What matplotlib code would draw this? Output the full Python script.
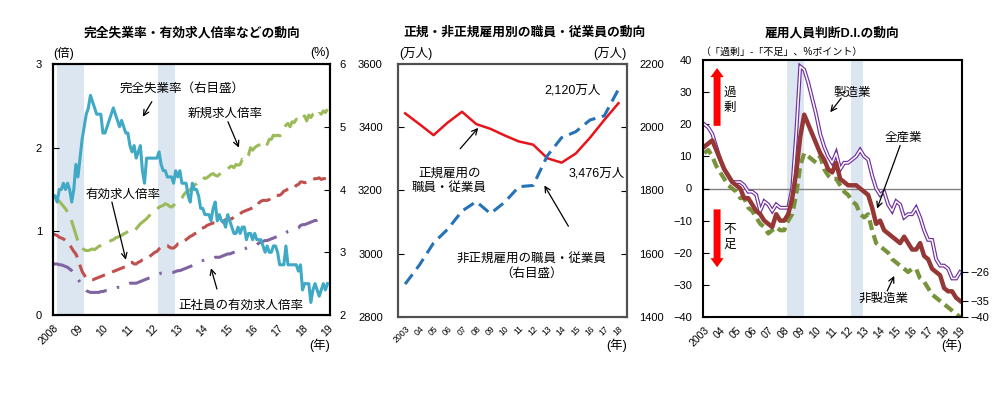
import matplotlib
matplotlib.use("Agg")
import matplotlib.pyplot as plt
import numpy as np

plt.rcParams['font.family'] = ['Liberation Sans', 'Noto Sans CJK JP', 'DejaVu Sans']

# ---- panel 1: monthly, Jan 2008 - Jan 2019 ----
unemp = [3.9, 3.9, 3.8, 4.0, 4.0, 4.1, 4.0, 4.1, 4.0, 3.8, 4.0, 4.4,
         4.2, 4.5, 4.8, 5.0, 5.2, 5.3, 5.5, 5.4, 5.3, 5.2, 5.2, 5.2,
         4.9, 4.9, 5.0, 5.1, 5.2, 5.3, 5.2, 5.1, 5.0, 5.1, 5.0, 4.9,
         4.9, 4.7, 4.6, 4.7, 4.5, 4.6, 4.7, 4.3, 4.1, 4.5, 4.5, 4.5,
         4.5, 4.5, 4.5, 4.6, 4.4, 4.3, 4.3, 4.2, 4.2, 4.2, 4.1, 4.3,
         4.2, 4.3, 4.1, 4.1, 4.1, 3.9, 3.8, 4.1, 4.0, 4.0, 3.9, 3.7,
         3.7, 3.6, 3.6, 3.6, 3.5, 3.7, 3.8, 3.5, 3.6, 3.5, 3.5, 3.4,
         3.6, 3.5, 3.4, 3.3, 3.3, 3.4, 3.3, 3.4, 3.4, 3.2, 3.3, 3.3,
         3.2, 3.3, 3.2, 3.2, 3.2, 3.1, 3.0, 3.1, 3.0, 3.0, 3.1, 3.1,
         3.0, 2.8, 2.8, 2.8, 3.1, 2.8, 2.8, 2.8, 2.8, 2.8, 2.7, 2.8,
         2.4, 2.5, 2.5, 2.5, 2.2, 2.4, 2.5, 2.4, 2.3, 2.4, 2.5, 2.4,
         2.5]
ratio = [0.97, 0.96, 0.95, 0.93, 0.92, 0.91, 0.89, 0.86, 0.84, 0.80, 0.76, 0.73,
         0.67, 0.59, 0.52, 0.48, 0.44, 0.43, 0.42, 0.42, 0.43, 0.44, 0.45, 0.46,
         0.47, 0.48, 0.49, 0.50, 0.51, 0.52, 0.53, 0.54, 0.55, 0.56, 0.57, 0.58,
         0.61, 0.62, 0.63, 0.61, 0.61, 0.63, 0.64, 0.66, 0.67, 0.68, 0.69, 0.71,
         0.73, 0.75, 0.76, 0.79, 0.81, 0.82, 0.83, 0.83, 0.81, 0.80, 0.80, 0.82,
         0.85, 0.85, 0.86, 0.89, 0.90, 0.92, 0.94, 0.95, 0.97, 0.98, 1.00, 1.03,
         1.04, 1.05, 1.07, 1.08, 1.09, 1.10, 1.10, 1.10, 1.09, 1.10, 1.12, 1.14,
         1.14, 1.15, 1.15, 1.17, 1.19, 1.19, 1.21, 1.23, 1.24, 1.25, 1.26, 1.27,
         1.28, 1.28, 1.30, 1.34, 1.36, 1.37, 1.37, 1.37, 1.38, 1.40, 1.41, 1.43,
         1.43, 1.43, 1.45, 1.48, 1.49, 1.51, 1.52, 1.52, 1.52, 1.55, 1.56, 1.59,
         1.59, 1.58, 1.59, 1.59, 1.60, 1.62, 1.63, 1.63, 1.64, 1.62, 1.63, 1.63,
         1.63]
new_ratio = [1.42, 1.40, 1.38, 1.36, 1.33, 1.30, 1.27, 1.23, 1.18, 1.12, 1.04, 0.96,
             0.88, 0.83, 0.80, 0.78, 0.77, 0.77, 0.78, 0.79, 0.78, 0.80, 0.82, 0.83,
             0.84, 0.85, 0.86, 0.88, 0.89, 0.90, 0.92, 0.93, 0.94, 0.95, 0.97, 0.98,
             1.00, 1.02, 1.01, 1.00, 1.03, 1.06, 1.09, 1.11, 1.13, 1.15, 1.18, 1.20,
             1.23, 1.25, 1.26, 1.29, 1.30, 1.31, 1.33, 1.32, 1.30, 1.29, 1.31, 1.34,
             1.37, 1.38, 1.40, 1.44, 1.47, 1.48, 1.50, 1.52, 1.55, 1.57, 1.60, 1.63,
             1.65, 1.63, 1.64, 1.66, 1.68, 1.69, 1.67, 1.66, 1.68, 1.70, 1.72, 1.74,
             1.74, 1.77, 1.78, 1.76, 1.80, 1.79, 1.80, 1.86, 1.84, 1.87, 1.91, 2.00,
             1.97, 2.00, 2.02, 2.03, 2.05, 2.06, 2.08, 2.04, 2.10, 2.10, 2.15, 2.14,
             2.15, 2.14, 2.16, 2.21, 2.27, 2.29, 2.25, 2.31, 2.30, 2.34, 2.33, 2.38,
             2.36, 2.38, 2.32, 2.39, 2.36, 2.40, 2.41, 2.37, 2.41, 2.40, 2.44, 2.42,
             2.46]
regular_ratio = [0.61, 0.61, 0.61, 0.60, 0.60, 0.59, 0.58, 0.57, 0.55, 0.53, 0.50, 0.47,
                 0.43, 0.39, 0.35, 0.31, 0.29, 0.28, 0.27, 0.27, 0.27, 0.27, 0.27, 0.28,
                 0.28, 0.29, 0.29, 0.30, 0.31, 0.31, 0.32, 0.33, 0.33, 0.34, 0.35, 0.36,
                 0.37, 0.38, 0.38, 0.38, 0.38, 0.39, 0.40, 0.41, 0.42, 0.43, 0.44, 0.45,
                 0.46, 0.47, 0.48, 0.49, 0.50, 0.50, 0.51, 0.51, 0.51, 0.51, 0.51, 0.52,
                 0.53, 0.53, 0.54, 0.55, 0.56, 0.57, 0.58, 0.59, 0.60, 0.61, 0.62, 0.64,
                 0.65, 0.66, 0.67, 0.67, 0.68, 0.68, 0.69, 0.69, 0.69, 0.70, 0.71, 0.72,
                 0.73, 0.73, 0.74, 0.75, 0.76, 0.77, 0.78, 0.78, 0.79, 0.80, 0.81, 0.82,
                 0.82, 0.83, 0.84, 0.86, 0.87, 0.88, 0.89, 0.89, 0.90, 0.91, 0.92, 0.93,
                 0.94, 0.94, 0.95, 0.97, 0.98, 1.00, 1.01, 1.02, 1.02, 1.03, 1.04, 1.07,
                 1.08, 1.08, 1.09, 1.10, 1.11, 1.12, 1.13, 1.13, 1.14, 1.14, 1.13, 1.13]
p1_ticks = ['2008', '09', '10', '11', '12', '13', '14', '15', '16', '17', '18', '19']

# ---- panel 2: annual 2003-2018 (万人) ----
years2 = list(range(2003, 2019))
regular_emp = [3444, 3410, 3375, 3415, 3449, 3410, 3395, 3374, 3355, 3345,
               3302, 3288, 3317, 3367, 3423, 3476]
nonregular_emp = [1504, 1564, 1634, 1678, 1735, 1765, 1727, 1763, 1812, 1816,
                  1910, 1967, 1986, 2023, 2036, 2120]
p2_ticks = ['2003', '04', '05', '06', '07', '08', '09', '10', '11', '12',
            '13', '14', '15', '16', '17', '18']

# ---- panel 3: quarterly 2003Q1 - 2019Q1 ----
di_all = [13, 14, 15, 12, 9, 6, 4, 2, 1, 0,
          -3, -3, -5, -7, -8, -10, -11, -12, -8, -10,
          -10, -8, -3, 5, 16, 23, 20, 17, 14, 11,
          9, 6, 5, 8, 3, 2, 1, 1, 1, 0,
          -1, -2, -6, -11, -10, -13, -14, -15, -16, -17,
          -15, -17, -19, -19, -17, -21, -22, -25, -26, -27,
          -31, -32, -32, -34, -35]
di_mfg = [20, 19, 17, 13, 9, 6, 4, 2, 2, 2,
          1, -1, -1, -2, -7, -4, -5, -7, -5, -6,
          -6, -6, 0, 17, 38, 37, 33, 28, 23, 17,
          13, 10, 8, 11, 6, 8, 8, 9, 10, 12,
          10, 9, 4, 0, -2, -1, -5, -7, -4, -5,
          -9, -8, -8, -6, -9, -13, -16, -16, -22, -24,
          -24, -25, -28, -28, -26]
di_nonmfg = [11, 12, 10, 7, 5, 3, 1, 0, -1, -3,
             -3, -6, -7, -9, -11, -12, -14, -13, -12, -13,
             -13, -10, -8, -2, 7, 11, 10, 9, 8, 10,
             6, 4, 3, 3, 1, -1, -2, -4, -5, -8,
             -9, -8, -13, -17, -18, -19, -20, -22, -23, -24,
             -25, -26, -25, -25, -28, -29, -31, -33, -34, -35,
             -36, -37, -38, -39, -40]
p3_ticks = ['2003', '04', '05', '06', '07', '08', '09', '10', '11', '12',
            '13', '14', '15', '16', '17', '18', '19']
end_labels = [-26, -35, -40]

# recession shading (years)
recessions = [(2008.17, 2009.25), (2012.2, 2012.9)]
shade = '#DCE6F1'

months1 = 2008 + np.arange(len(unemp)) / 12
months1r = 2008 + np.arange(len(regular_ratio)) / 12
quarters3 = 2003 + np.arange(len(di_all)) / 4

fig = plt.figure(figsize=(10, 3.94), dpi=100)


def fx(px):
    return px / 1000


def fy(py):
    return 1 - py / 394


def note(ax, text, xy_text, tail, head, fs=9):
    ax.text(xy_text[0], xy_text[1], text, ha='center', va='center', fontsize=fs,
            linespacing=1.3)
    if tail is not None:
        ax.annotate('', xy=head, xytext=tail,
                    arrowprops=dict(arrowstyle='->', lw=0.9, color='black',
                                    shrinkA=0, shrinkB=0))


def style(ax, color='black'):
    for s in ax.spines.values():
        s.set_linewidth(1.5)
        s.set_color(color)


# ================= panel 1 =================
ax1 = fig.add_axes([fx(53), fy(315), fx(277), 251 / 394])
ax1r = ax1.twinx()
for a, b in recessions:
    ax1.axvspan(a, b, color=shade, lw=0, zorder=0)
ax1.plot(months1, new_ratio, color='#9BBB59', lw=2.2, ls=(0, (7, 3)))
ax1.plot(months1, ratio, color='#C0504D', lw=2.2, ls=(0, (4.5, 2.5)))
ax1.plot(months1r, regular_ratio, color='#8064A2', lw=2.2, ls=(0, (7, 3.5, 0.8, 3.5)))
ax1r.plot(months1, unemp, color='#3FA9C6', lw=2.2)
ax1.set_xlim(2008, 2019.1)
ax1.set_ylim(0, 3)
ax1r.set_ylim(2, 6)
ax1.set_yticks([0, 1, 2, 3])
ax1r.set_yticks([2, 3, 4, 5, 6])
ax1.set_xticks(range(2008, 2020))
ax1.set_xticklabels(p1_ticks, rotation=45, ha='right', rotation_mode='anchor', fontsize=7.5)
ax1.tick_params(axis='y', direction='in', length=4, labelsize=8, pad=8)
ax1r.tick_params(axis='y', direction='in', length=4, labelsize=8, pad=7)
ax1.tick_params(axis='x', length=0, pad=6)
style(ax1)
style(ax1r)
note(ax1, '完全失業率（右目盛）', (2013.17, 2.71), (2011.96, 2.55), (2011.6, 2.37))
note(ax1, '新規求人倍率', (2014.9, 2.41), (2015.01, 2.31), (2015.45, 2.0))
note(ax1, '有効求人倍率', (2010.8, 1.43), (2010.36, 1.35), (2010.92, 0.66))
note(ax1, '正社員の有効求人倍率', (2015.54, 0.11), (2014.57, 0.31), (2014.33, 0.56))
fig.text(fx(192), fy(33), '完全失業率・有効求人倍率などの動向', ha='center', va='center',
         fontsize=9.2, fontweight='bold')
fig.text(fx(53), fy(53), '(倍)', ha='left', va='center', fontsize=9)
fig.text(fx(330), fy(53), '(%)', ha='right', va='center', fontsize=9)
fig.text(fx(330), fy(345), '(年)', ha='right', va='center', fontsize=9)

# ================= panel 2 =================
ax2 = fig.add_axes([fx(398), fy(317), fx(229), 253 / 394])
ax2r = ax2.twinx()
ax2.plot(years2, regular_emp, color='#E8141B', lw=1.8)
ax2r.plot(years2, nonregular_emp, color='#2672B8', lw=2.2, ls=(0, (4, 2.2)))
ax2.set_xlim(2002.5, 2018.6)
ax2.set_ylim(2800, 3600)
ax2r.set_ylim(1400, 2200)
ax2.set_yticks(range(2800, 3601, 200))
ax2r.set_yticks(range(1400, 2201, 200))
ax2.set_xticks(years2)
ax2.set_xticklabels(p2_ticks, rotation=45, ha='right', rotation_mode='anchor', fontsize=6.2)
ax2.tick_params(axis='y', direction='in', length=4, labelsize=8, pad=11)
ax2r.tick_params(axis='y', direction='in', length=4, labelsize=8, pad=9)
ax2.tick_params(axis='x', length=0, pad=5)
style(ax2, '#505050')
style(ax2r, '#505050')
note(ax2, '2,120万人', (2014.76, 3515), None, None)
note(ax2, '3,476万人', (2016.5, 3253), None, None)
note(ax2, '正規雇用の\n職員・従業員', (2006.1, 3231), (2006.87, 3332), (2008.14, 3398))
note(ax2, '非正規雇用の職員・従業員\n（右目盛）', (2011.87, 2961), (2014.48, 3087), (2012.79, 3216))
fig.text(fx(525), fy(33), '正規・非正規雇用別の職員・従業員の動向', ha='center', va='center',
         fontsize=9.2, fontweight='bold')
fig.text(fx(399), fy(53), '(万人)', ha='left', va='center', fontsize=9)
fig.text(fx(626), fy(53), '(万人)', ha='right', va='center', fontsize=9)
fig.text(fx(627), fy(345), '(年)', ha='right', va='center', fontsize=9)

# ================= panel 3 =================
ax3 = fig.add_axes([fx(703), fy(317), fx(259), 257 / 394])
for a, b in recessions:
    ax3.axvspan(a, b, color=shade, lw=0, zorder=0)
ax3.axhline(0, color='#808080', lw=1, zorder=1)
ax3.plot(quarters3, di_mfg, color='#7030A0', lw=2.8, solid_joinstyle='miter')
ax3.plot(quarters3, di_mfg, color='white', lw=1.1)
ax3.plot(quarters3, di_nonmfg, color='#77933C', lw=3, ls=(0, (2.4, 1.3)))
ax3.plot(quarters3, di_all, color='#953735', lw=3.2)
ax3.set_xlim(2002.92, 2019.12)
ax3.set_ylim(-40, 40)
ax3.set_yticks(range(-40, 41, 10))
ax3.set_xticks(range(2003, 2020))
ax3.set_xticklabels(p3_ticks, rotation=45, ha='right', rotation_mode='anchor', fontsize=7.5)
ax3.tick_params(axis='y', direction='in', length=4, labelsize=8, pad=8)
ax3.tick_params(axis='x', length=0, pad=6)
style(ax3)
ax3r = ax3.twinx()
ax3r.set_ylim(-40, 40)
ax3r.set_yticks(end_labels)
ax3r.tick_params(axis='y', direction='out', length=4, labelsize=8, pad=2)
for s in ax3r.spines.values():
    s.set_visible(False)
ax3.annotate('', xy=(2003.8, 37.5), xytext=(2003.8, 19.5),
             arrowprops=dict(arrowstyle='simple,head_length=0.65,head_width=0.95,tail_width=0.5',
                             color='#FF0000', lw=0, shrinkA=0, shrinkB=0, mutation_scale=10))
ax3.annotate('', xy=(2003.8, -24.5), xytext=(2003.8, -6.5),
             arrowprops=dict(arrowstyle='simple,head_length=0.65,head_width=0.95,tail_width=0.5',
                             color='#FF0000', lw=0, shrinkA=0, shrinkB=0, mutation_scale=10))
note(ax3, '過\n剰', (2004.6, 27.5), None, None)
note(ax3, '不\n足', (2004.6, -15.3), None, None)
note(ax3, '製造業', (2012.25, 29.7), (2011.56, 28.1), (2010.88, 23.75))
note(ax3, '全産業', (2015.44, 15.9), (2015.25, 13.4), (2013.81, -6.25))
note(ax3, '非製造業', (2014.19, -34.4), (2014.44, -31.9), (2014.88, -27.2))
fig.text(fx(832), fy(33), '雇用人員判断D.I.の動向', ha='center', va='center',
         fontsize=9.2, fontweight='bold')
fig.text(fx(700), fy(52), '（「過剰」-「不足」、%ポイント）', ha='left', va='center', fontsize=7.2)
fig.text(fx(962), fy(345), '(年)', ha='right', va='center', fontsize=9)

fig.savefig('out.png', dpi=100)
